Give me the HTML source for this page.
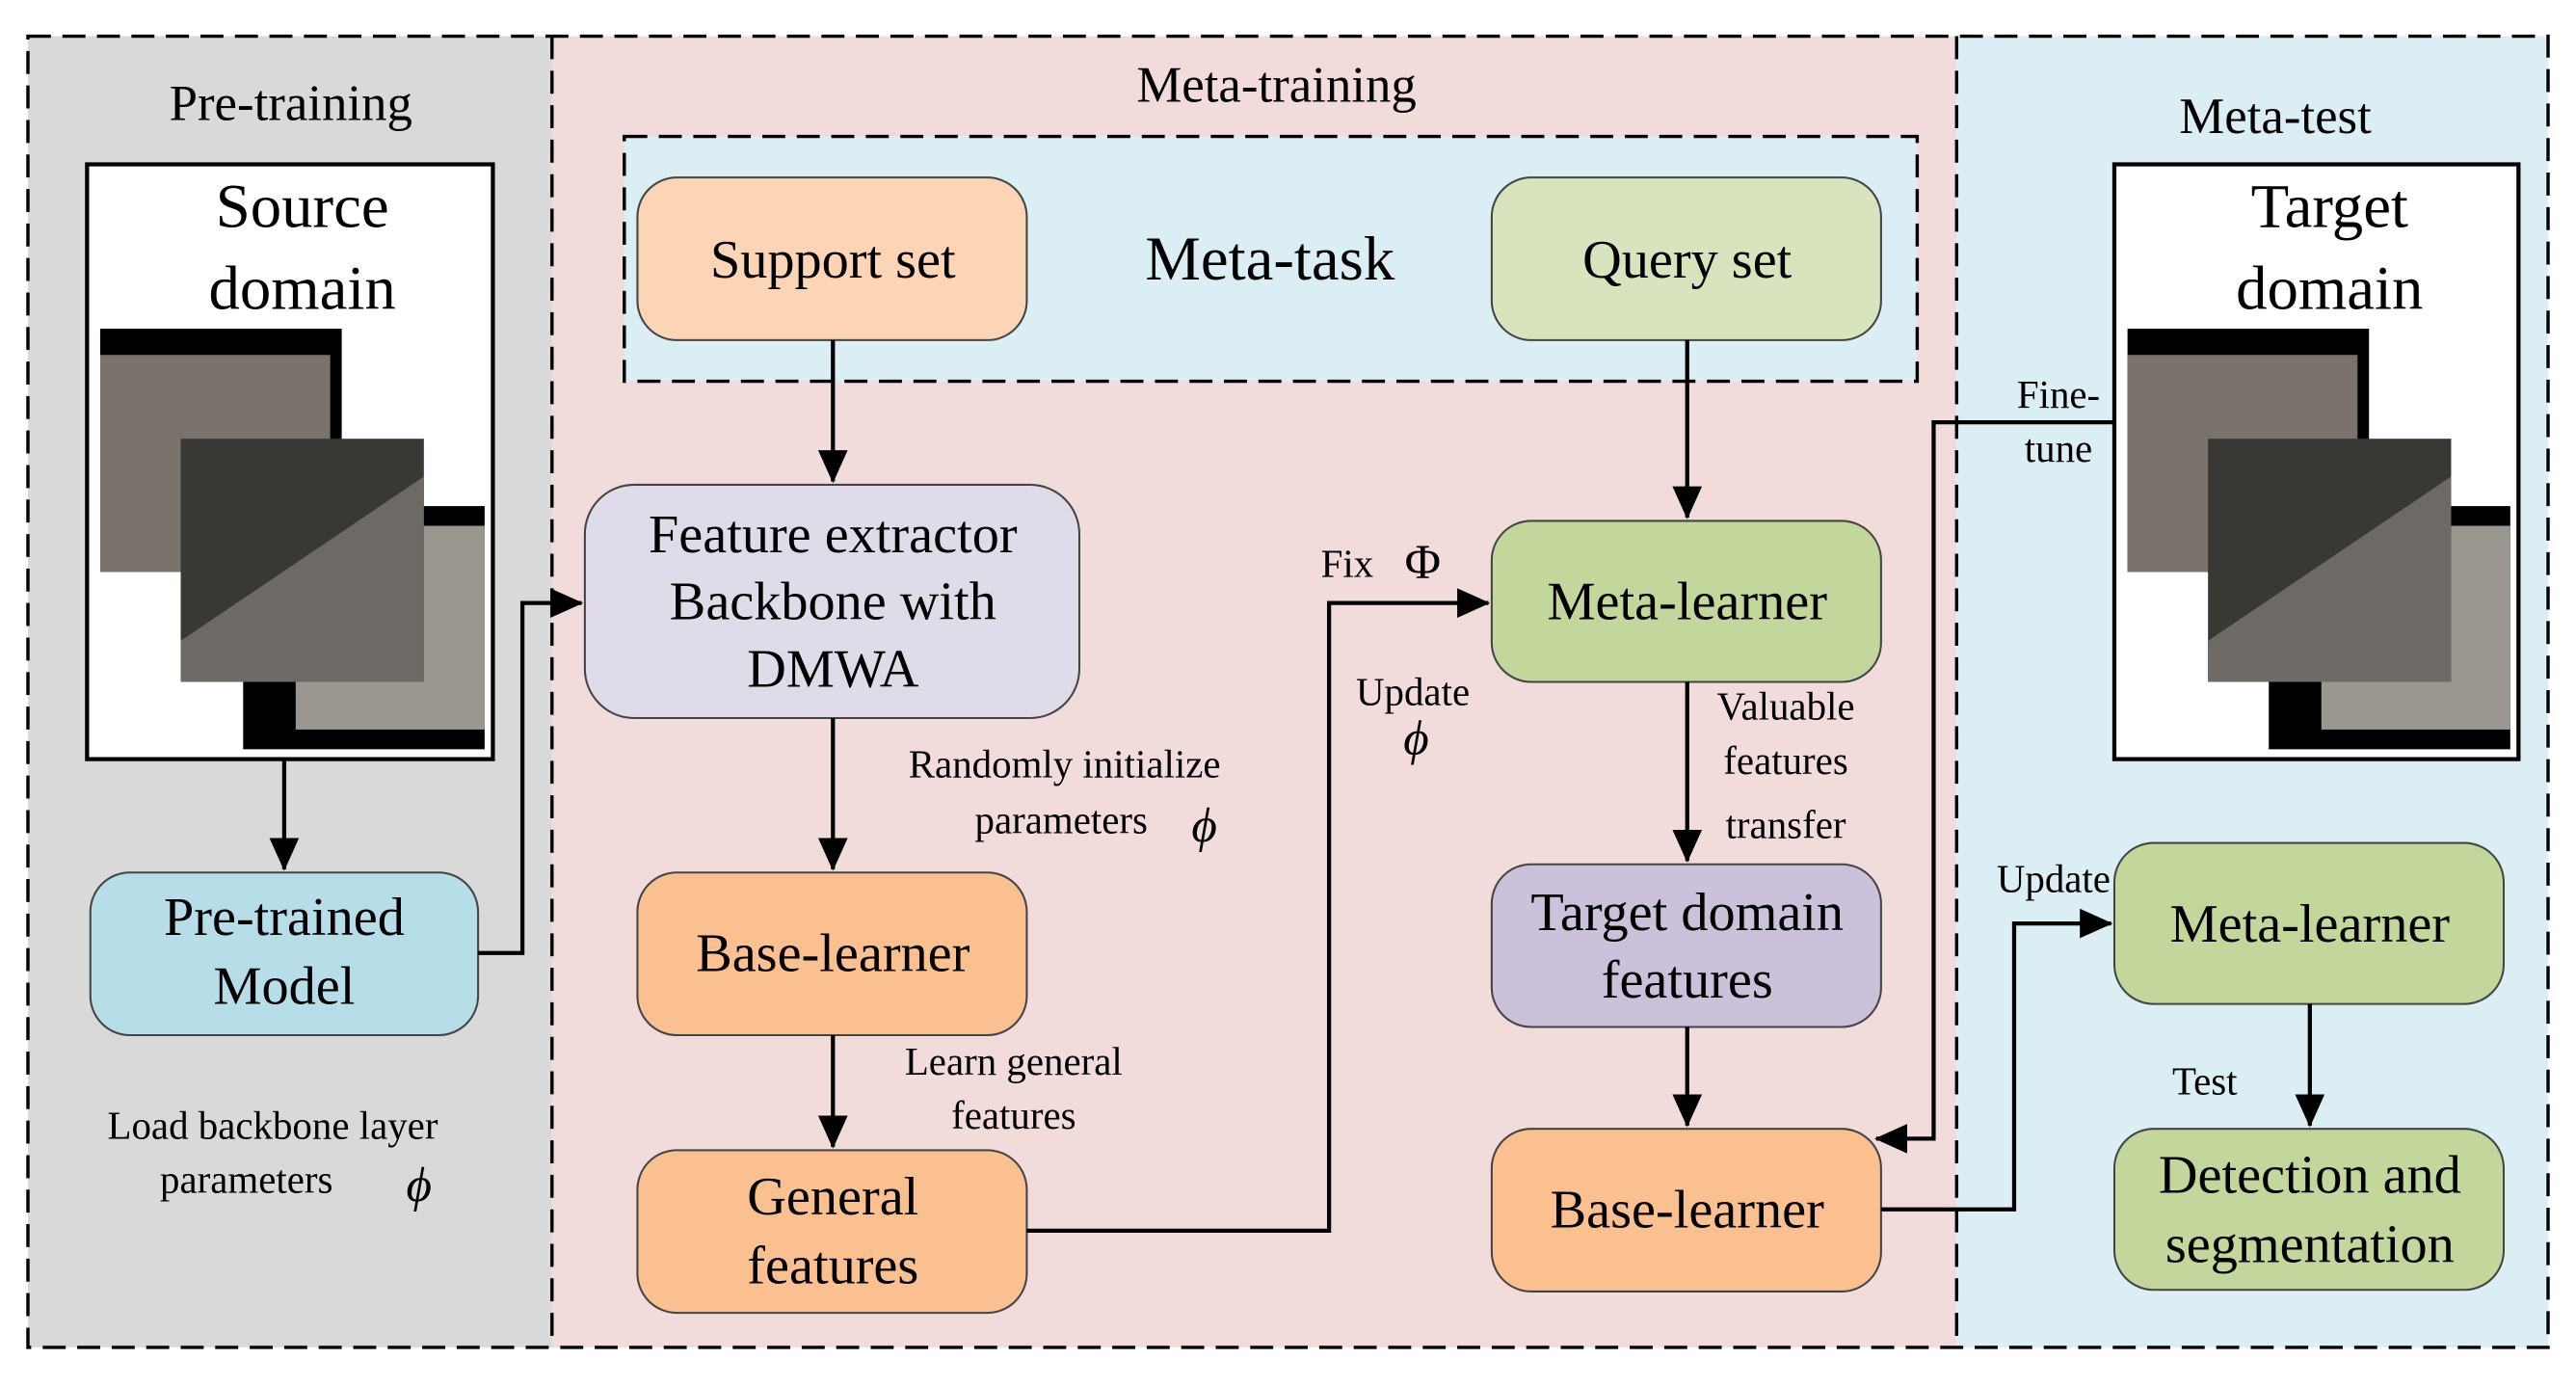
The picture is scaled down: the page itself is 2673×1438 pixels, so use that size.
<!DOCTYPE html>
<html><head><meta charset="utf-8"><style>html,body{margin:0;padding:0;background:#fff}svg{display:block}svg text{font-family:"Liberation Serif","Times New Roman",serif}</style></head>
<body>
<svg width="2673" height="1438" viewBox="0 0 1568 843.5" xmlns="http://www.w3.org/2000/svg" font-family="'Liberation Serif', serif">
<defs>
<marker id="b" markerWidth="20" markerHeight="18" refX="19" refY="9" orient="auto" markerUnits="userSpaceOnUse"><path d="M0,0 L20,9 L0,18 z" fill="#000"/></marker>
</defs>
<rect x="17" y="22" width="319" height="798" fill="#d9d9d9"/>
<rect x="336" y="22" width="855" height="798" fill="#f2dcdb"/>
<rect x="1191" y="22" width="360" height="798" fill="#dbeef4"/>
<rect x="17" y="22" width="1534" height="798" fill="none" stroke="#000" stroke-width="2" stroke-dasharray="14,7"/>
<line x1="336" y1="22" x2="336" y2="820" stroke="#000" stroke-width="2" stroke-dasharray="14,7"/>
<line x1="1191" y1="22" x2="1191" y2="820" stroke="#000" stroke-width="2" stroke-dasharray="14,7"/>
<g font-size="31" text-anchor="middle">
<text x="177" y="73">Pre-training</text>
<text x="777" y="62">Meta-training</text>
<text x="1385" y="81">Meta-test</text>
</g>
<rect x="53" y="100" width="247" height="362" fill="#fff" stroke="#000" stroke-width="2.5"/>
<text x="184" y="138" font-size="38" text-anchor="middle">Source</text>
<text x="184" y="188" font-size="38" text-anchor="middle">domain</text>
<g>
<rect x="61" y="200" width="147" height="148" fill="#000"/>
<rect x="61" y="216" width="140" height="132" fill="#7a736b"/>
<rect x="148" y="308" width="147" height="148" fill="#000"/>
<rect x="180" y="320" width="115" height="124" fill="#9a9690"/>
<rect x="110" y="267" width="148" height="148" fill="#3a3835"/>
<path d="M110,390 L258,290 L258,415 L110,415z" fill="#6d6a65"/>
</g>
<rect x="1287" y="100" width="246" height="362" fill="#fff" stroke="#000" stroke-width="2.5"/>
<text x="1418" y="138" font-size="38" text-anchor="middle">Target</text>
<text x="1418" y="188" font-size="38" text-anchor="middle">domain</text>
<g>
<rect x="1295" y="200" width="147" height="148" fill="#000"/>
<rect x="1295" y="216" width="140" height="132" fill="#7a736b"/>
<rect x="1381" y="308" width="147" height="148" fill="#000"/>
<rect x="1413" y="320" width="115" height="124" fill="#9a9690"/>
<rect x="1344" y="267" width="148" height="148" fill="#3a3835"/>
<path d="M1344,390 L1492,290 L1492,415 L1344,415z" fill="#6d6a65"/>
</g>
<rect x="380" y="83" width="787" height="149" fill="#dbeef4" stroke="#000" stroke-width="2" stroke-dasharray="14,7"/>
<text x="773" y="170" font-size="38" text-anchor="middle">Meta-task</text>
<g stroke="#444" stroke-width="1.2">
<rect x="388" y="108" width="237" height="99" rx="24" fill="#fbd5b5"/>
<rect x="908" y="108" width="237" height="99" rx="24" fill="#d7e4bd"/>
<rect x="55" y="531" width="236" height="99" rx="24" fill="#b7dee8"/>
<rect x="356" y="295" width="301" height="142" rx="30" fill="#e0dbe8"/>
<rect x="388" y="531" width="237" height="99" rx="24" fill="#fac090"/>
<rect x="388" y="700" width="237" height="99" rx="24" fill="#fac090"/>
<rect x="908" y="317" width="237" height="98" rx="24" fill="#c3d69b"/>
<rect x="908" y="526" width="237" height="99" rx="24" fill="#ccc1da"/>
<rect x="908" y="687" width="237" height="99" rx="24" fill="#fac090"/>
<rect x="1287" y="513" width="237" height="98" rx="24" fill="#c3d69b"/>
<rect x="1287" y="687" width="237" height="98" rx="24" fill="#c3d69b"/>
</g>
<g font-size="33" text-anchor="middle">
<text x="507" y="169">Support set</text>
<text x="1027" y="169">Query set</text>
<text x="173" y="569">Pre-trained</text>
<text x="173" y="611">Model</text>
<text x="507" y="336">Feature extractor</text>
<text x="507" y="377">Backbone with</text>
<text x="507" y="418">DMWA</text>
<text x="507" y="591">Base-learner</text>
<text x="507" y="739">General</text>
<text x="507" y="781">features</text>
<text x="1027" y="377">Meta-learner</text>
<text x="1027" y="566">Target domain</text>
<text x="1027" y="607">features</text>
<text x="1027" y="747">Base-learner</text>
<text x="1406" y="573">Meta-learner</text>
<text x="1406" y="726">Detection and</text>
<text x="1406" y="768">segmentation</text>
</g>
<g font-size="24" text-anchor="middle">
<text x="166" y="693">Load backbone layer</text>
<text x="150" y="726">parameters</text>
<text x="255" y="731" font-size="30" font-style="italic">ϕ</text>
<text x="648" y="473">Randomly initialize</text>
<text x="646" y="507">parameters</text>
<text x="733" y="512" font-size="30" font-style="italic">ϕ</text>
<text x="617" y="654">Learn general</text>
<text x="617" y="687">features</text>
<text x="820" y="351">Fix</text>
<text x="866" y="352" font-size="30">Φ</text>
<text x="860" y="429">Update</text>
<text x="862" y="459" font-size="30" font-style="italic">ϕ</text>
<text x="1087" y="438">Valuable</text>
<text x="1087" y="471">features</text>
<text x="1087" y="510">transfer</text>
<text x="1253" y="248">Fine-</text>
<text x="1253" y="281">tune</text>
<text x="1250" y="543">Update</text>
<text x="1342" y="666">Test</text>
</g>
<g stroke="#000" stroke-width="2.5" fill="none" marker-end="url(#b)">
<path d="M173,462 V529"/>
<path d="M291,580 H318 V367 H354"/>
<path d="M507,207 V293"/>
<path d="M507,437 V529"/>
<path d="M507,630 V698"/>
<path d="M625,749 H809 V367 H906"/>
<path d="M1027,207 V315"/>
<path d="M1027,415 V524"/>
<path d="M1027,625 V685"/>
<path d="M1287,257 H1177 V693 H1142"/>
<path d="M1145,736 H1226 V562 H1285"/>
<path d="M1406,611 V685"/>
</g>
</svg>
</body></html>
